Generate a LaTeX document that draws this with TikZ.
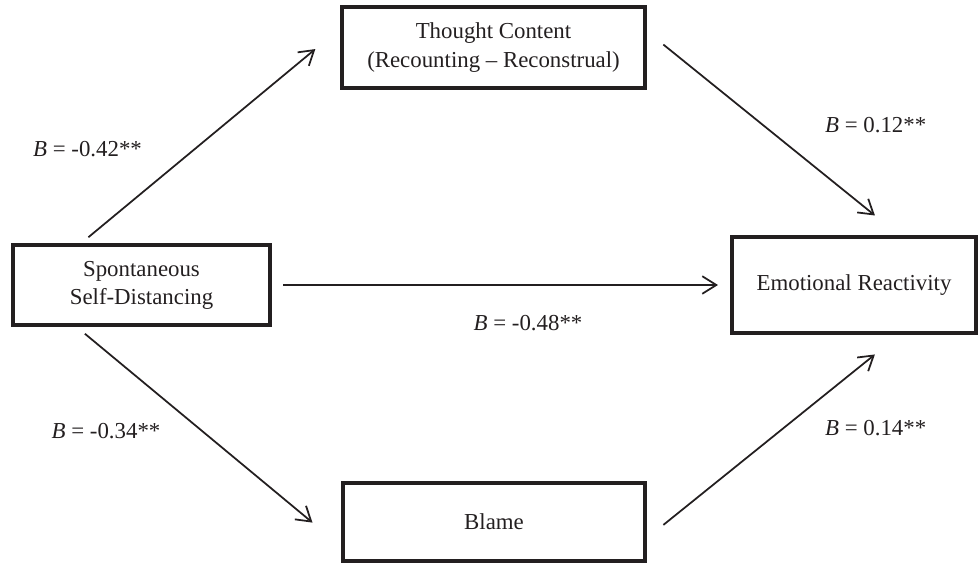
\documentclass[tikz,border=0pt]{standalone}
\usepackage{fontspec}
\setmainfont{Liberation Serif}
\usetikzlibrary{arrows.meta}
\definecolor{ink}{HTML}{231F20}
\tikzset{>={Straight Barb[length=8pt,width=10pt]},
  every node/.style={font=\fontsize{13}{16}\selectfont,text=ink},
  varbox/.style={draw=ink,line width=2.3pt,align=center,inner sep=0pt},
  effect/.style={->,draw=ink,line width=1pt},
  coef/.style={inner sep=1pt}}
\begin{document}
\begin{tikzpicture}
\useasboundingbox (0,0) rectangle (19.58,11.26);
% variables
\node[varbox,minimum width=6.06cm,minimum height=1.62cm] (tc) at (9.87,10.31) {Thought Content\\(Recounting -- Reconstrual)};
\node[varbox,minimum width=5.14cm,minimum height=1.6cm] (sd) at (2.83,5.56) {Spontaneous\\Self-Distancing};
\node[varbox,minimum width=4.88cm,minimum height=1.92cm] (er) at (17.08,5.56) {Emotional Reactivity};
\node[varbox,minimum width=6.04cm,minimum height=1.56cm] (bl) at (9.88,0.82) {Blame};
% paths
\draw[effect,shorten <=.18cm,shorten >=.64cm] (sd.145) -- (tc.173);
\draw[effect,shorten <=.42cm,shorten >=.62cm] (tc.6) -- (er.48);
\draw[effect,shorten <=.22cm,shorten >=.24cm] (sd.east) -- (er.west);
\draw[effect,shorten <=.21cm,shorten >=.74cm] (sd.213) -- (bl.189);
\draw[effect,shorten <=.42cm,shorten >=.62cm] (bl.354) -- (er.312);
% coefficients
\node[coef] (b1) at (1.75,8.28) {\textit{B} = -0.42**};
\node[coef,anchor=west] (b2) at (16.46,8.76) {\textit{B} = 0.12**};
\node[coef] (b3) at (10.56,4.80) {\textit{B} = -0.48**};
\node[coef] (b4) at (2.12,2.64) {\textit{B} = -0.34**};
\node[coef,anchor=west] (b5) at (16.46,2.70) {\textit{B} = 0.14**};
\end{tikzpicture}
\end{document}
